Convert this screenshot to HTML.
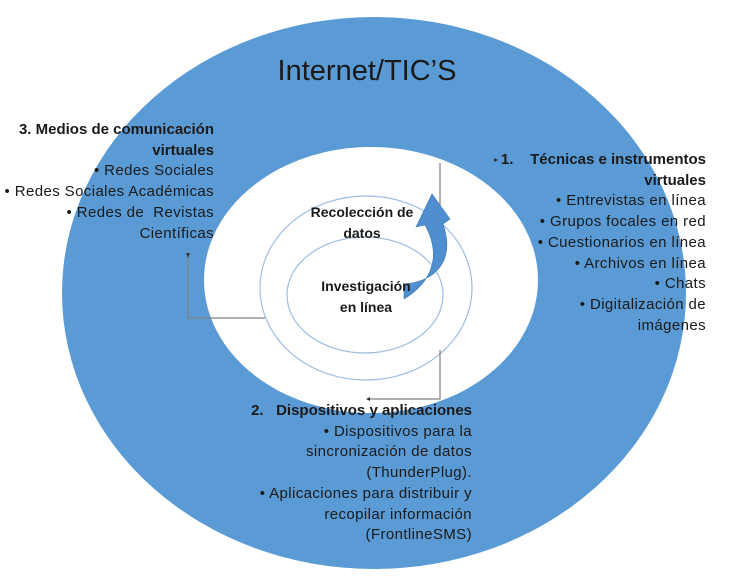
<!DOCTYPE html>
<html><head><meta charset="utf-8"><style>
html,body{margin:0;padding:0;background:#fff;}
body{width:741px;height:580px;position:relative;overflow:hidden;font-family:"Liberation Sans",sans-serif;color:#1a1a1a;}
.t{position:absolute;text-align:right;font-size:15px;line-height:20.7px;white-space:nowrap;letter-spacing:0.4px;}
b{font-weight:bold;letter-spacing:0;}
.c{font-size:14px;letter-spacing:0;}
</style></head><body>
<svg width="741" height="580" style="position:absolute;left:0;top:0">
<ellipse cx="374" cy="293" rx="312" ry="276" fill="#5b9bd5"/>
<ellipse cx="371" cy="280" rx="167" ry="133" fill="#fff"/>
<ellipse cx="366" cy="288" rx="106" ry="92" fill="none" stroke="#9dbde0" stroke-width="1.2"/>
<ellipse cx="365" cy="295" rx="78" ry="58" fill="none" stroke="#9dbde0" stroke-width="1.2"/>
<g stroke="#7f7f7f" stroke-width="1.2" fill="none">
<polyline points="440,163 440,208"/>
<polyline points="265,318 188,318 188,258"/>
<polyline points="440,350 440,399 370,399"/>
</g>
<path d="M186,253 l2,5 l2,-5z" fill="#333"/>
<path d="M370,397 l-4,2 l4,2z" fill="#333"/>
<path d="M494,158 l4,2 l-4,2z" fill="#333"/>
<path d="M404,284 C434,282 456,262 443,224 L450,219 L432,194 L416,227 L425,225 C442,256 432,282 404,299 Z" fill="#4f8fcf" stroke="#3d78b5" stroke-width="0.6"/>
<text x="367" y="80" text-anchor="middle" font-family="Liberation Sans, sans-serif" font-size="29" fill="#1a1a1a">Internet/TIC’S</text>
</svg>
<div class="t" style="right:527px;top:120px"><b>3. Medios de comunicación</b><br><b>virtuales</b><br>• Redes Sociales<br>• Redes Sociales Académicas<br>• Redes de &nbsp;Revistas<br>Científicas</div>
<div class="t" style="right:35px;top:150px"><b>1.&nbsp;&nbsp;&nbsp; Técnicas e instrumentos</b><br><b>virtuales</b><br>• Entrevistas en línea<br>• Grupos focales en red<br>• Cuestionarios en línea<br>• Archivos en línea<br>• Chats<br>• Digitalización de<br>imágenes</div>
<div class="t" style="right:269px;top:401px"><b>2.&nbsp;&nbsp; Dispositivos y aplicaciones</b><br>• Dispositivos para la<br>sincronización de datos<br>(ThunderPlug).<br>• Aplicaciones para distribuir y<br>recopilar información<br>(FrontlineSMS)</div>
<div class="t c" style="left:300px;top:202px;text-align:center;width:124px;font-weight:bold;">Recolección de<br>datos</div>
<div class="t c" style="left:308px;top:276px;text-align:center;width:116px;font-weight:bold;">Investigación<br>en línea</div>
</body></html>
